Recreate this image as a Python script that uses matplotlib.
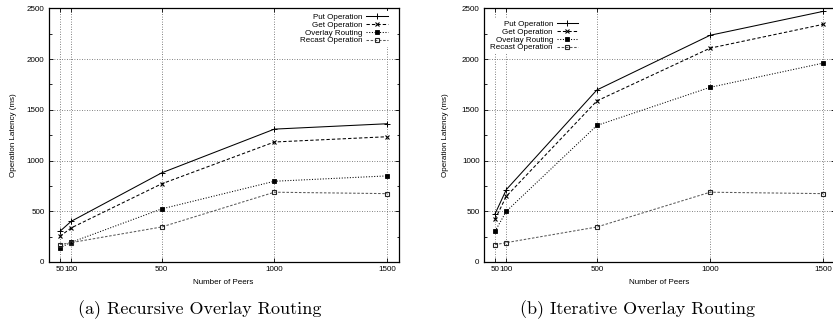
import matplotlib
matplotlib.use("Agg")
import matplotlib.pyplot as plt
from matplotlib.ticker import MultipleLocator

# Number of peers on the x axis
peers = [50, 100, 500, 1000, 1500]

# Recursive overlay routing latencies (ms)
rec_put = [302, 401, 878, 1310, 1363]
rec_get = [253, 336, 770, 1183, 1235]
rec_overlay = [140, 194, 523, 796, 849]
rec_recast = [171, 191, 345, 688, 674]

# Iterative overlay routing latencies (ms)
it_put = [474, 714, 1696, 2235, 2471]
it_get = [421, 648, 1588, 2108, 2343]
it_overlay = [303, 500, 1346, 1722, 1961]
it_recast = [171, 191, 345, 688, 674]

series_labels = ["Put Operation", "Get Operation", "Overlay Routing", "Recast Operation"]
captions = ["(a) Recursive Overlay Routing", "(b) Iterative Overlay Routing"]
xlabel = "Number of Peers"
ylabel = "Operation Latency (ms)"
xticks = [50, 100, 500, 1000, 1500]
yticks = [0, 500, 1000, 1500, 2000, 2500]

W, H = 833, 323
FS = 5.8
fig = plt.figure(figsize=(W / 100, H / 100), dpi=100)
plt.rcParams["font.family"] = ["Liberation Sans", "DejaVu Sans"]

styles = [
    dict(color="black", ls="-", marker="+", ms=4.0, mew=0.7),
    dict(color="black", ls=(0, (3.2, 2.0)), marker="x", ms=3.0, mew=0.8),
    dict(color="black", ls=(0, (1.0, 1.6)), marker="s", ms=2.6, mfc="black", mew=0.6),
    dict(color="0.35", ls=(0, (2.4, 1.6)), marker="s", ms=3.2, mfc="none", mew=0.8, mec="0.15"),
]


def px_rect(x0, x1, ytop, ybot):
    return [x0 / W, 1 - ybot / H, (x1 - x0) / W, (ybot - ytop) / H]


def draw(ax, data, legend_loc, legend_anchor, ylabel_x):
    for vals, st, lab in zip(data, styles, series_labels):
        ax.plot(peers, vals, lw=0.75, label=lab, **st)
    ax.set_xlim(0, 1550)
    ax.set_ylim(0, 2500)
    ax.set_xticks(xticks)
    ax.set_yticks(yticks)
    ax.yaxis.set_minor_locator(MultipleLocator(250))
    ax.tick_params(which="both", direction="in", top=True, right=True,
                   labelsize=FS, width=0.6)
    ax.tick_params(which="major", length=3.0, pad=3.0)
    ax.tick_params(which="minor", length=1.8)
    ax.tick_params(axis="x", which="minor", top=False, bottom=False)
    ax.grid(True, which="major", color="0.35", ls=(0, (1, 2)), lw=0.6)
    for sp in ax.spines.values():
        sp.set_linewidth(0.9)
    ax.set_xlabel(xlabel, fontsize=FS)
    ax.xaxis.set_label_coords(0.5, -0.067)
    ax.set_ylabel(ylabel, fontsize=FS)
    ax.yaxis.set_label_coords(ylabel_x, 0.5)
    leg = ax.legend(loc=legend_loc, bbox_to_anchor=legend_anchor,
                    bbox_transform=fig.transFigure, fontsize=FS,
                    markerfirst=False, handlelength=2.7, handletextpad=0.45,
                    labelspacing=0.02, borderpad=0.3, borderaxespad=0,
                    frameon=True, fancybox=False, framealpha=1.0)
    leg.get_frame().set_edgecolor("none")
    leg.get_frame().set_facecolor("white")


ax1 = fig.add_axes(px_rect(48.6, 398.6, 8.4, 262))
draw(ax1, [rec_put, rec_get, rec_overlay, rec_recast], "upper right",
     (390 / W, 1 - 11 / H), -0.090)

ax2 = fig.add_axes(px_rect(483.7, 834.6, 8.4, 262))
draw(ax2, [it_put, it_get, it_overlay, it_recast], "upper left",
     (488 / W, 1 - 18 / H), -0.099)

fig.text(200 / W, 1 - 310 / H, captions[0], family="cmr10", fontsize=13,
         ha="center", va="center")
fig.text(637 / W, 1 - 310 / H, captions[1], family="cmr10", fontsize=13,
         ha="center", va="center")

fig.savefig("out.png", dpi=100)
